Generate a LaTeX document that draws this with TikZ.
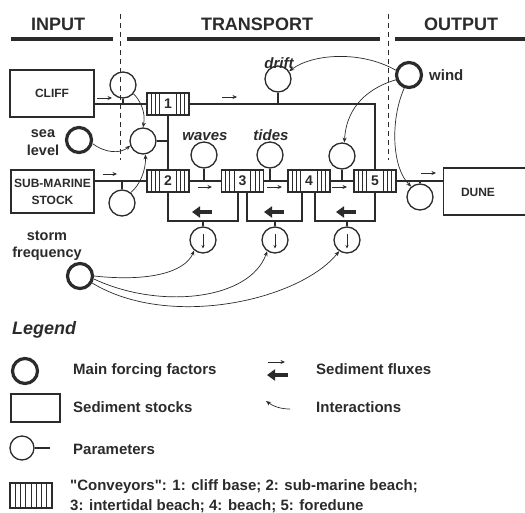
\documentclass[tikz,border=0pt]{standalone}
\usepackage{fontspec}
\setmainfont{Liberation Sans}
\usetikzlibrary{arrows.meta}
\definecolor{ink}{HTML}{2B2B2B}
\tikzset{
  flux/.style={line width=2.6pt, draw=ink},
  stemline/.style={line width=1.2pt, draw=ink},
  param/.style={circle, draw=ink, line width=1.3pt, minimum size=26pt, inner sep=0pt},
  forcing/.style={circle, draw=ink, line width=3.2pt, minimum size=25pt, inner sep=0pt},
  stock/.style={rectangle, draw=ink, line width=1.3pt, inner sep=0pt, text=ink,
    font=\bfseries\fontsize{12}{17}\selectfont, align=center},
  conveyor/.style={rectangle, draw=ink, line width=1.3pt, minimum width=42pt,
    minimum height=22pt, inner sep=0pt, text=ink, font=\bfseries\fontsize{14}{14}\selectfont,
    path picture={
      \foreach \k in {1,...,9}{\draw[line width=0.9pt, ink]
        ([xshift=\k*4.2pt]path picture bounding box.south west) --
        ([xshift=\k*4.2pt]path picture bounding box.north west);}
      \fill[white] ([xshift=-6.5pt]path picture bounding box.south) rectangle
        ([xshift=6.5pt]path picture bounding box.north);}},
  legconv/.style={rectangle, draw=ink, line width=1.3pt, minimum width=42pt,
    minimum height=25pt, inner sep=0pt,
    path picture={
      \foreach \k in {1,...,7}{\draw[line width=1pt, ink]
        ([xshift=\k*5.25pt]path picture bounding box.south west) --
        ([xshift=\k*5.25pt]path picture bounding box.north west);}}},
  smallflux/.style={-{Stealth[length=4.5pt,width=4pt]}, line width=1pt, draw=ink},
  bigflux/.style={-{Triangle[length=8pt,width=11pt]}, line width=3.6pt, draw=ink},
  interact/.style={-{Stealth[length=5pt,width=4pt]}, line width=0.7pt, draw=ink},
  downarr/.style={-{Stealth[length=3.5pt,width=3pt]}, line width=0.8pt, draw=ink},
  divider/.style={dash pattern=on 5pt off 4pt, line width=0.9pt, draw=ink},
  headbar/.style={line width=4.5pt, draw=ink},
  head/.style={font=\bfseries\fontsize{18}{18}\selectfont, text=ink, inner sep=0pt, anchor=base},
  lbl/.style={font=\bfseries\fontsize{14.5}{17}\selectfont, text=ink, inner sep=0pt, anchor=base},
  ilbl/.style={font=\bfseries\itshape\fontsize{15}{17}\selectfont, text=ink, inner sep=0pt, anchor=base},
  legtext/.style={font=\bfseries\fontsize{15}{19}\selectfont, text=ink, inner sep=0pt, anchor=base west},
}
\begin{document}
\begin{tikzpicture}[x=1pt,y=-1pt]
\useasboundingbox (0,0) rectangle (525,512);
\clip (0,0) rectangle (525,512);

% headers
\node[head] (hin) at (58,30) {INPUT};
\node[head] (htr) at (257,30) {TRANSPORT};
\node[head] (hout) at (461,30) {OUTPUT};
\coordinate (bin1) at (11,39); \coordinate (bin2) at (113,39);
\coordinate (btr1) at (127,39); \coordinate (btr2) at (380,39);
\coordinate (bout1) at (395,39); \coordinate (bout2) at (530,39);
\draw[headbar] (bin1) -- (bin2);
\draw[headbar] (btr1) -- (btr2);
\draw[headbar] (bout1) -- (bout2);

% dividers
\coordinate (d1t) at (120,14); \coordinate (d1b) at (120,160);
\coordinate (d2t) at (388,14); \coordinate (d2b) at (388,160);
\draw[divider] (d1t) -- (d1b);
\draw[divider] (d2t) -- (d2b);

% stocks
\node[stock, minimum width=84pt, minimum height=47pt] (cliff) at (52,93.5) {CLIFF};
\node[stock, minimum width=83pt, minimum height=43pt] (sub) at (52.5,191.5) {SUB-MARINE\\STOCK};
\node[stock, minimum width=95pt, minimum height=47pt, anchor=west] (dune) at (443,191.5) {};
\node[font=\bfseries\fontsize{12}{14}\selectfont, text=ink] (dunetxt) at (478,192) {DUNE};

% conveyors
\node[conveyor] (c1) at (168,104) {1};
\node[conveyor] (c2) at (168,181) {2};
\node[conveyor] (c3) at (242.5,181) {3};
\node[conveyor] (c4) at (309,181) {4};
\node[conveyor] (c5) at (375,181) {5};

% fluxes
\draw[flux] (c1.west -| cliff.east) -- (c1.west);
\draw[flux] (c2.west -| sub.east) -- (c2.west);
\draw[flux] (c1.east) -- (c1.east -| c5.north) -- (c5.north);
\draw[flux] (c1.south) -- (c2.north);
\draw[flux] (c2.east) -- (c3.west);
\draw[flux] (c3.east) -- (c4.west);
\draw[flux] (c4.east) -- (c5.west);
\draw[flux] (c5.east) -- (c5.east -| dune.west);
\coordinate (lb) at (0,221);
\draw[flux] (c2.south) -- (c2.south |- lb) -| ([xshift=-4.5pt]c3.south);
\draw[flux] ([xshift=4.5pt]c3.south) -- ([xshift=4.5pt]c3.south |- lb) -| ([xshift=-7pt]c4.south);
\draw[flux] ([xshift=6pt]c4.south) -- ([xshift=6pt]c4.south |- lb) -| (c5.south);

% small flux arrows
\coordinate (a1s) at (97,98);  \coordinate (a1e) at (112,98);
\coordinate (a2s) at (222,97); \coordinate (a2e) at (237,97);
\coordinate (a3s) at (103,174); \coordinate (a3e) at (117,174);
\coordinate (a4s) at (198,187); \coordinate (a4e) at (212,187);
\coordinate (a5s) at (267,187); \coordinate (a5e) at (282,187);
\coordinate (a6s) at (332,187); \coordinate (a6e) at (347,187);
\coordinate (a7s) at (421,173); \coordinate (a7e) at (436,173);
\foreach \i in {1,...,7} \draw[smallflux] (a\i s) -- (a\i e);

% return arrows
\coordinate (r1s) at (212,212); \coordinate (r1e) at (192,212);
\coordinate (r2s) at (284,212); \coordinate (r2e) at (264,212);
\coordinate (r3s) at (356,212); \coordinate (r3e) at (336,212);
\foreach \i in {1,2,3} \draw[bigflux] (r\i s) -- (r\i e);

% parameters
\node[param] (pcliff) at (123,85) {};
\node[param] (pmix) at (143,141) {};
\node[param] (psub) at (122,203) {};
\node[param] (drift) at (278,79) {};
\node[param] (waves) at (204,155) {};
\node[param] (tides) at (270,155) {};
\node[param] (pwind) at (342,156) {};
\node[param] (pdune) at (420,197) {};
\node[param] (dn1) at (203,240) {};
\node[param] (dn2) at (275,240) {};
\node[param] (dn3) at (347,240) {};

\draw[stemline] (pcliff.south) -- (pcliff.south |- c1.west);
\draw[stemline] (pmix.east) -- (pmix.east -| c1.south);
\draw[stemline] (psub.north) -- (psub.north |- c2.west);
\draw[stemline] (drift.south) -- (drift.south |- c1.east);
\draw[stemline] (waves.south) -- (waves.south |- c2.east);
\draw[stemline] (tides.south) -- (tides.south |- c3.east);
\draw[stemline] (pwind.south) -- (pwind.south |- c4.east);
\draw[stemline] (pdune.north) -- (pdune.north |- c5.east);
\foreach \n in {dn1,dn2,dn3}{
  \draw[stemline] (\n.north) -- (\n.north |- lb);
  \draw[downarr] ([yshift=6pt]\n.center) -- ([yshift=-8.5pt]\n.center);
}

% forcing factors
\node[forcing] (sealevel) at (79,140) {};
\node[forcing] (wind) at (409,75) {};
\node[forcing] (storm) at (80,276) {};

% labels
\node[lbl] (sea) at (43,137) {sea};
\node[lbl] (level) at (43,155) {level};
\node[lbl] (stormt) at (47,240) {storm};
\node[lbl] (freq) at (47,257) {frequency};
\node[lbl, anchor=base west, font=\bfseries\fontsize{15}{17}\selectfont] (windt) at (429,80) {wind};
\node[ilbl] (driftt) at (279,68) {drift};
\node[ilbl] (wavest) at (205,140) {waves};
\node[ilbl] (tidest) at (271,140) {tides};

% interactions
\draw[interact] (pcliff.-40) .. controls (140,100) and (146,112) .. (pmix.north);
\draw[interact] (sealevel.-15) .. controls (105,153) and (120,154) .. (pmix.200);
\draw[interact] (psub.50) .. controls (140,185) and (146,170) .. (pmix.-80);
\draw[interact] (wind.160) .. controls (360,50) and (312,54) .. (drift.35);
\draw[interact] (wind.200) .. controls (362,90) and (346,112) .. (pwind.80);
\draw[interact] (wind.-110) .. controls (390,120) and (392,168) .. (pdune.130);
\draw[interact] (storm.east) .. controls (150,282) and (185,272) .. (dn1.-130);
\draw[interact] (storm.-12) .. controls (160,310) and (250,300) .. (dn2.-125);
\draw[interact] (storm.-30) .. controls (170,330) and (300,300) .. (dn3.-125);

% legend
\node[font=\bfseries\itshape\fontsize{18}{18}\selectfont, text=ink, inner sep=0pt, anchor=base west] (legend) at (12,334) {Legend};
\node[forcing] (lgforce) at (25,371) {};
\node[legtext] (lgforcet) at (73,374) {Main forcing factors};
\node[stock, minimum width=49pt, minimum height=28pt] (lgstock) at (35.5,408) {};
\node[legtext] (lgstockt) at (73,412) {Sediment stocks};
\node[param, minimum size=24pt] (lgparam) at (22,448) {};
\coordinate (lgstem) at (50,448);
\draw[stemline] (lgparam.east) -- (lgstem);
\node[legtext] (lgparamt) at (73,454) {Parameters};
\node[legconv] (lgconv) at (31,495.5) {};
\node[legtext] (lgconvt1) at (70,490) {\textquotedbl Conveyors\textquotedbl: 1: cliff base; 2: sub-marine beach;};
\node[legtext] (lgconvt2) at (70,510) {3: intertidal beach; 4: beach; 5: foredune};
\coordinate (lf1s) at (268,362); \coordinate (lf1e) at (285,362);
\coordinate (lf2s) at (288,375); \coordinate (lf2e) at (267,375);
\draw[smallflux] (lf1s) -- (lf1e);
\draw[bigflux] (lf2s) -- (lf2e);
\node[legtext] (lgfluxt) at (316,374) {Sediment fluxes};
\coordinate (li1) at (290,409); \coordinate (li2) at (266,401);
\draw[interact] (li1) .. controls (280,409) and (273,406) .. (li2);
\node[legtext] (lginteract) at (316,412) {Interactions};
\end{tikzpicture}
\end{document}
